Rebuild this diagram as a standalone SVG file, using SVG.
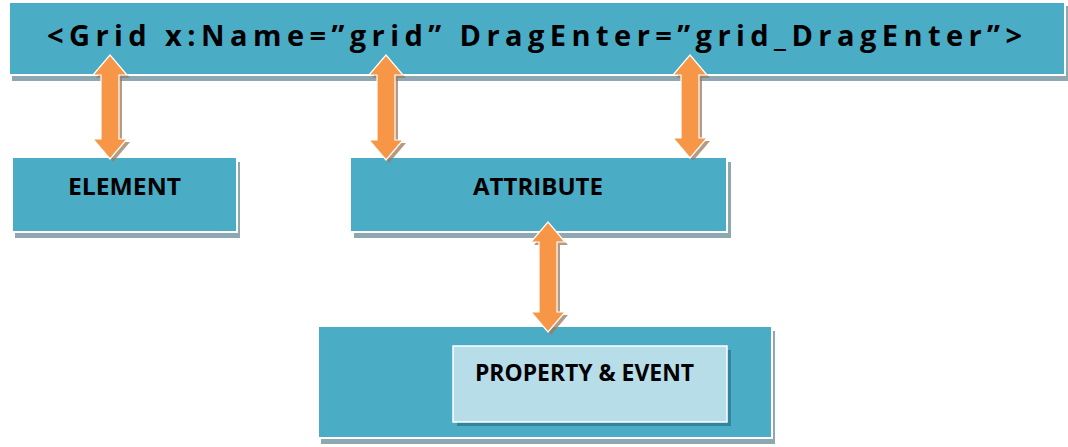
<svg xmlns="http://www.w3.org/2000/svg" xmlns:xlink="http://www.w3.org/1999/xlink" width="1068" height="447" viewBox="0 0 1068 447">
<style>
.box{fill:#4BACC6;stroke:#FFFFFF;stroke-width:2}
.inner{fill:#B7DDE8;stroke:#FFFFFF;stroke-width:1.5}
.shadow{fill:#8EA8B1}
.ishadow{fill:#31859C}
.lbl{font-family:"Open Sans","Liberation Sans",sans-serif;font-weight:bold;font-size:24px;fill:#000000;text-anchor:middle}
.title{font-family:"Open Sans","Liberation Sans",sans-serif;font-weight:bold;font-size:29px;fill:#000000}
.arrow{fill:#F79646;stroke:#FFFFFF;stroke-width:1.2}
.ashadow{fill:#9C7A5C;opacity:0.75}
</style>
<rect width="1068" height="447" fill="#FFFFFF"/>
<g id="grid-tag">
<rect class="shadow" x="12" y="6" width="1056" height="75"/>
<rect class="box" x="9" y="2" width="1056" height="73"/>
<text class="title" x="47" y="46" textLength="975" lengthAdjust="spacing">&lt;Grid x:Name=”grid” DragEnter=”grid_DragEnter”&gt;</text>
</g>
<g id="element">
<rect class="shadow" x="15" y="162" width="225" height="76"/>
<rect class="box" x="12" y="157" width="225" height="75"/>
<text class="lbl" x="124.5" y="195" textLength="113" lengthAdjust="spacingAndGlyphs">ELEMENT</text>
</g>
<g id="attribute">
<rect class="shadow" x="354" y="162" width="377" height="76"/>
<rect class="box" x="350" y="157" width="377" height="75"/>
<text class="lbl" x="538" y="195" textLength="130" lengthAdjust="spacingAndGlyphs">ATTRIBUTE</text>
</g>
<g id="property-event">
<rect class="shadow" x="321" y="331" width="454" height="113"/>
<rect class="box" x="318" y="326" width="454" height="112"/>
<rect class="ishadow" x="457" y="350" width="274" height="76"/>
<rect class="inner" x="453" y="346" width="274" height="76"/>
<text class="lbl" x="584.5" y="381" textLength="219" lengthAdjust="spacingAndGlyphs">PROPERTY &amp; EVENT</text>
</g>
<g id="connectors">
<path class="ashadow" transform="translate(3,3)" d="M110,55 L127,75 L119,75 L119,139 L127,139 L110,159 L93,139 L101,139 L101,75 L93,75 Z"/>
<path class="arrow" d="M110,55 L127,75 L119,75 L119,139 L127,139 L110,159 L93,139 L101,139 L101,75 L93,75 Z"/>
<path class="ashadow" transform="translate(3,3)" d="M386,55 L403,75 L395,75 L395,140 L403,140 L386,160 L369,140 L377,140 L377,75 L369,75 Z"/>
<path class="arrow" d="M386,55 L403,75 L395,75 L395,140 L403,140 L386,160 L369,140 L377,140 L377,75 L369,75 Z"/>
<path class="ashadow" transform="translate(3,3)" d="M690,55 L707,75 L699,75 L699,138 L707,138 L690,158 L673,138 L681,138 L681,75 L673,75 Z"/>
<path class="arrow" d="M690,55 L707,75 L699,75 L699,138 L707,138 L690,158 L673,138 L681,138 L681,75 L673,75 Z"/>
<path class="ashadow" transform="translate(3,3)" d="M548,222 L565,242 L557,242 L557,312 L565,312 L548,332 L531,312 L539,312 L539,242 L531,242 Z"/>
<path class="arrow" d="M548,222 L565,242 L557,242 L557,312 L565,312 L548,332 L531,312 L539,312 L539,242 L531,242 Z"/>
</g>
</svg>
